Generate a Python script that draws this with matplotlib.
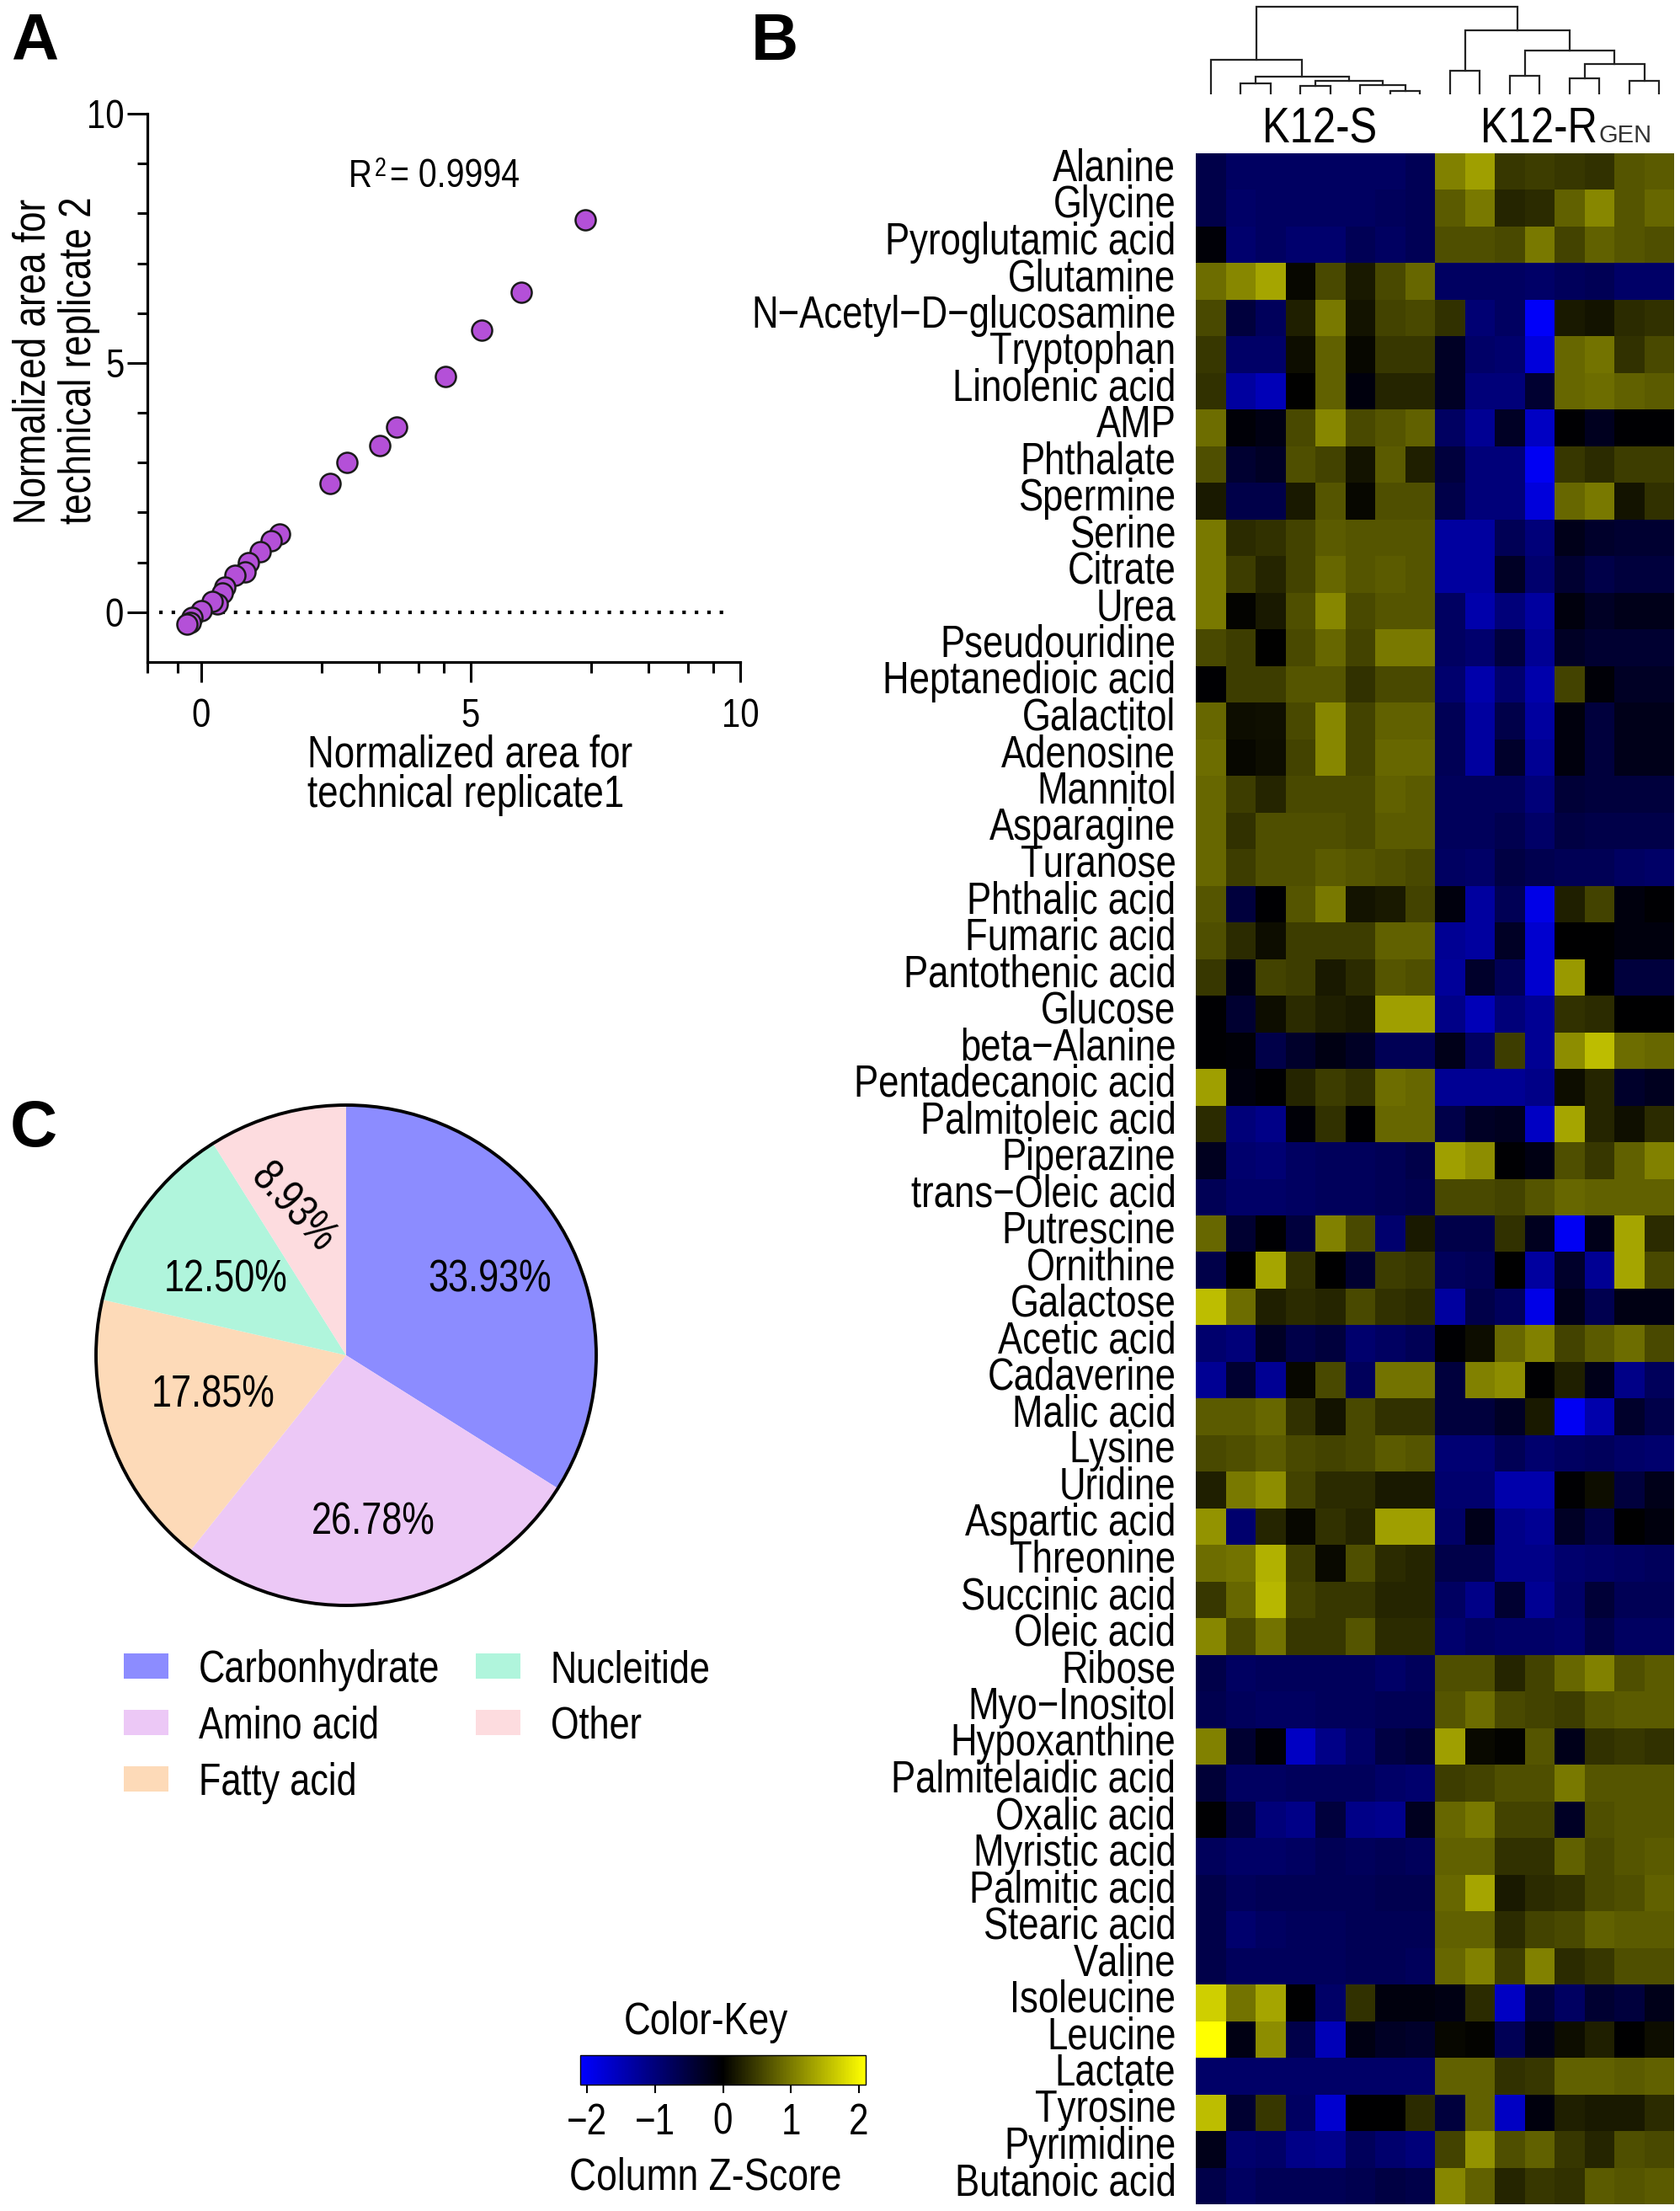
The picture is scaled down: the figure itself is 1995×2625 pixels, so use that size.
import os
import tempfile
import numpy as np
import matplotlib
matplotlib.use('Agg')
import matplotlib.pyplot as plt
from matplotlib import font_manager
from matplotlib.colors import LinearSegmentedColormap, Normalize
from matplotlib.cm import ScalarMappable
from matplotlib.transforms import Affine2D
from fontTools.ttLib import TTFont


def make_narrow_font(squeeze=0.82):
    '''No condensed face is installed, so squeeze Liberation Sans sideways and register the result'''
    source = font_manager.findfont('Liberation Sans')
    font = TTFont(source)
    glyf = font['glyf']
    hmtx = font['hmtx']
    for name in font.getGlyphOrder():
        glyph = glyf[name]
        if glyph.isComposite():
            for part in glyph.components:
                part.x = round(part.x * squeeze)
        elif glyph.numberOfContours > 0:
            glyph.coordinates.scale((squeeze, 1))
            glyph.coordinates.toInt()
            if hasattr(glyph, 'program'):
                glyph.program.fromBytecode([])
        advance, bearing = hmtx.metrics[name]
        hmtx.metrics[name] = (round(advance * squeeze), round(bearing * squeeze))
    for name in font.getGlyphOrder():
        glyf[name].recalcBounds(glyf)
    for tag in ['fpgm', 'prep', 'cvt ', 'hdmx', 'VDMX', 'LTSH', 'kern', 'GPOS', 'GSUB']:
        if tag in font:
            del font[tag]
    for record in font['name'].names:
        if record.nameID in (1, 4, 16):
            record.string = 'Local Sans Narrow'
        elif record.nameID == 6:
            record.string = 'LocalSansNarrow'
    path = os.path.join(tempfile.mkdtemp(), 'local_sans_narrow.ttf')
    font.save(path)
    font_manager.fontManager.addfont(path)


make_narrow_font()
plt.rcParams['font.family'] = ['Local Sans Narrow', 'Liberation Sans']

W, H = 1995, 2625

# panel A
replicate_1 = [7.13, 5.94, 5.21, 4.53, 3.63, 3.31, 2.71, 2.39, 1.45, 1.30, 1.09, 0.88, 0.82,
               0.62, 0.44, 0.39, 0.30, 0.20, 0.00, -0.17, -0.21, -0.26]
replicate_2 = [7.87, 6.41, 5.65, 4.72, 3.71, 3.34, 3.01, 2.58, 1.56, 1.44, 1.21, 1.00, 0.80,
               0.74, 0.50, 0.38, 0.17, 0.22, 0.03, -0.11, -0.21, -0.24]
x_minor_ticks = [-1, -0.44, 2.24, 3.3, 4.03, 4.5, 7.24, 8.3, 9.03, 9.5]
y_minor_ticks = [1, 2, 3, 4, 6, 7, 8, 9]

# panel C
classes = ['Carbonhydrate', 'Amino acid', 'Fatty acid', 'Nucleitide', 'Other']
class_share = [33.93, 26.78, 17.85, 12.50, 8.93]
class_colors = ['#8C8CFF', '#ECC8F6', '#FDDAB8', '#B0F5DC', '#FDDCDF']

# panel B
metabolites = ['Alanine', 'Glycine', 'Pyroglutamic acid', 'Glutamine', 'N\u2212Acetyl\u2212D\u2212glucosamine',
               'Tryptophan', 'Linolenic acid', 'AMP', 'Phthalate', 'Spermine', 'Serine', 'Citrate', 'Urea',
               'Pseudouridine', 'Heptanedioic acid', 'Galactitol', 'Adenosine', 'Mannitol', 'Asparagine',
               'Turanose', 'Phthalic acid', 'Fumaric acid', 'Pantothenic acid', 'Glucose', 'beta\u2212Alanine',
               'Pentadecanoic acid', 'Palmitoleic acid', 'Piperazine', 'trans\u2212Oleic acid', 'Putrescine',
               'Ornithine', 'Galactose', 'Acetic acid', 'Cadaverine', 'Malic acid', 'Lysine', 'Uridine',
               'Aspartic acid', 'Threonine', 'Succinic acid', 'Oleic acid', 'Ribose', 'Myo\u2212Inositol',
               'Hypoxanthine', 'Palmitelaidic acid', 'Oxalic acid', 'Myristic acid', 'Palmitic acid',
               'Stearic acid', 'Valine', 'Isoleucine', 'Leucine', 'Lactate', 'Tyrosine', 'Pyrimidine',
               'Butanoic acid']
zscores = [
    [-.6, -.8, -.8, -.8, -.8, -.8, -.8, -.7, 1.05, 1.3, .45, .5, .45, .4, .7, .75],
    [-.6, -.85, -.8, -.8, -.8, -.8, -.75, -.7, .75, 1.0, .3, .35, .8, 1.1, .7, .85],
    [-.05, -.9, -.8, -.9, -.9, -.7, -.8, -.7, .65, .65, .6, 1.0, .55, .8, .7, .65],
    [.9, 1.1, 1.35, .05, .6, .2, .6, .85, -.8, -.8, -.8, -.85, -.75, -.7, -.85, -.85],
    [.6, -.5, -.75, .25, 1.0, .15, .55, .6, .4, -.95, -.8, -2.05, .2, .15, .35, .4],
    [.45, -.85, -.85, .1, .8, .05, .45, .45, -.3, -.85, -.9, -1.8, .85, .95, .4, .6],
    [.4, -1.3, -1.5, 0, .8, -.1, .3, .3, -.3, -1.0, -1.0, -.4, .85, .9, .8, .75],
    [.9, -.05, -.15, .6, 1.1, .6, .7, .8, -.8, -1.2, -.3, -1.6, -.02, -.25, -.02, -.02],
    [.65, -.4, -.3, .65, .55, .15, .75, .25, -.5, -1.0, -1.0, -2.0, .45, .35, .5, .5],
    [.2, -.6, -.6, .2, .7, .05, .65, .65, -.6, -1.0, -1.0, -1.8, .85, 1.0, .15, .4],
    [1.0, .35, .4, .55, .75, .7, .7, .7, -1.3, -1.3, -.7, -1.0, -.2, -.35, -.4, -.4],
    [1.0, .5, .3, .55, .85, .7, .75, .7, -1.3, -1.3, -.3, -.9, -.4, -.6, -.5, -.5],
    [1.0, .03, .2, .65, 1.1, .6, .7, .7, -.8, -1.4, -1.0, -1.3, -.1, -.3, -.2, -.2],
    [.6, .5, 0, .6, .85, .55, 1.0, 1.0, -.8, -.9, -.5, -1.2, -.3, -.4, -.4, -.4],
    [-.02, .5, .5, .7, .7, .4, .6, .6, -.9, -1.4, -.9, -1.4, .55, -.05, -.3, -.3],
    [.85, .1, .12, .6, 1.1, .55, .8, .8, -.7, -1.3, -.6, -1.3, -.1, -.5, -.2, -.2],
    [.9, .05, .1, .55, 1.1, .55, .85, .85, -.7, -1.3, -.35, -1.2, -.1, -.5, -.2, -.2],
    [.85, .5, .3, .6, .6, .6, .8, .75, -.75, -.75, -.75, -1.0, -.45, -.5, -.5, -.5],
    [.85, .4, .65, .65, .65, .6, .75, .75, -.75, -.75, -.65, -.85, -.55, -.6, -.6, -.6],
    [.85, .5, .65, .65, .75, .7, .65, .6, -.8, -.85, -.55, -.65, -.7, -.7, -.8, -.85],
    [.7, -.5, -.03, .7, 1.0, .15, .2, .55, -.1, -1.3, -.7, -1.9, .25, .55, -.1, -.02],
    [.65, .35, .1, .5, .5, .5, .8, .8, -1.2, -1.3, -.3, -1.7, -.01, -.01, -.1, -.1],
    [.45, -.15, .55, .5, .2, .35, .7, .65, -1.25, -.35, -.7, -1.7, 1.25, -.01, -.5, -.5],
    [-.02, -.4, .1, .35, .25, .2, 1.3, 1.3, -1.1, -1.5, -1.0, -1.2, .4, .35, -.01, -.01],
    [-.02, -.05, -.6, -.35, -.15, -.3, -.7, -.7, -.2, -.8, .5, -1.2, 1.15, 1.55, .9, .85],
    [1.3, -.1, -.02, .3, .5, .4, .9, .85, -1.2, -1.2, -1.2, -1.1, .1, .3, -.35, -.25],
    [.35, -1.0, -1.1, -.05, .4, -.03, .85, .85, -.6, -.3, -.25, -1.6, 1.35, .3, .12, .35],
    [-.25, -.9, -.95, -.8, -.75, -.75, -.7, -.6, 1.3, 1.15, -.02, -.15, .65, .45, .8, 1.05],
    [-.7, -.85, -.85, -.8, -.75, -.75, -.7, -.65, .6, .6, .55, .7, .85, .8, .8, .8],
    [.85, -.4, -.02, -.5, 1.05, .6, -.9, .2, -.6, -.6, .4, -.25, -2.0, -.2, 1.35, .35],
    [-.6, -.01, 1.35, .4, -.01, -.4, .5, .45, -.75, -.7, -.01, -1.3, -.35, -1.2, 1.35, .6],
    [1.55, .9, .25, .35, .3, .6, .4, .35, -1.3, -.6, -.75, -1.9, -.2, -.65, -.15, -.15],
    [-.9, -1.0, -.3, -.6, -.5, -.9, -.8, -.7, -.02, .1, .85, 1.05, .55, .75, .9, .6],
    [-1.2, -.4, -1.2, .05, .6, -.75, .95, .95, -.5, 1.05, 1.15, -.02, .25, -.2, -1.1, -.75],
    [.75, .75, .85, .4, .15, .6, .4, .4, -.5, -.5, -.3, .2, -2.0, -1.4, -.35, -.6],
    [.6, .65, .75, .6, .55, .6, .75, .7, -.95, -.95, -.7, -.9, -.8, -.75, -.85, -.9],
    [.25, 1.0, 1.15, .55, .35, .35, .2, .2, -.9, -.9, -1.4, -1.4, -.03, .1, -.5, -.2],
    [1.2, -.9, .3, .05, .4, .3, 1.3, 1.3, -.85, -.2, -1.1, -1.2, -.3, -.6, -.01, -.1],
    [.9, .95, 1.45, .5, .08, .65, .35, .3, -.6, -.6, -1.1, -1.1, -.9, -.85, -.8, -.75],
    [.45, .85, 1.5, .55, .45, .45, .3, .3, -.8, -1.1, -.4, -1.2, -.85, -.45, -.7, -.7],
    [1.1, .6, .95, .45, .45, .7, .35, .35, -.9, -.8, -.85, -.85, -.9, -.6, -.8, -.8],
    [-.6, -.8, -.75, -.75, -.75, -.75, -.85, -.75, .65, .65, .3, .55, .85, 1.05, .65, .75],
    [-.65, -.75, -.8, -.8, -.75, -.75, -.7, -.7, .7, .9, .6, .55, .5, .7, .75, .75],
    [1.05, -.4, -.05, -1.6, -1.1, -.85, -.55, -.45, 1.3, .07, .02, .7, -.2, .4, .45, .4],
    [-.45, -.8, -.8, -.75, -.75, -.75, -.85, -.9, .5, .55, .65, .65, 1.0, .7, .7, .7],
    [-.02, -.5, -1.0, -1.1, -.5, -1.1, -1.15, -.25, .85, 1.0, .55, .55, -.3, .65, .7, .7],
    [-.75, -.85, -.85, -.8, -.7, -.75, -.7, -.75, .8, .8, .4, .4, .8, .6, .7, .75],
    [-.6, -.75, -.7, -.7, -.7, -.7, -.65, -.65, .85, 1.35, .2, .35, .4, .6, .65, .8],
    [-.6, -.9, -.8, -.75, -.75, -.7, -.7, -.7, .8, .8, .35, .55, .6, .8, .75, .75],
    [-.6, -.75, -.75, -.75, -.75, -.7, -.7, -.75, .85, 1.05, .5, 1.05, .35, .45, .65, .65],
    [1.7, .95, 1.35, -.01, -.85, .4, -.1, -.1, -.15, .35, -1.6, -.5, -.8, -.4, -.5, -.2],
    [2.1, -.15, 1.15, -.6, -1.5, -.15, -.3, -.35, .05, .02, -.7, -.2, .1, .25, -.01, .1],
    [-.85, -.85, -.85, -.85, -.85, -.85, -.85, -.85, .8, .8, .4, .45, .8, .8, .75, .8],
    [1.55, -.4, .45, -.8, -1.7, -.01, -.01, .35, -.5, .8, -1.6, -.1, .25, .2, .2, .35],
    [-.2, -.9, -.85, -1.1, -1.15, -.75, -.9, -1.0, .55, 1.2, .65, .8, .45, .3, .65, .6],
    [-.6, -.8, -.7, -.7, -.7, -.65, -.55, -.6, 1.1, .8, .3, .45, .4, .75, .7, .75],
]
# sample tree: (left node, right node, height), merged nodes numbered from 16
sample_tree = [(6, 7, 3.6), (5, 16, 11), (3, 4, 10), (18, 17, 16.5), (1, 2, 13.4), (20, 19, 21.4),
               (0, 21, 41.5), (8, 9, 27.7), (10, 11, 21.9), (12, 13, 18.8), (14, 15, 15.6),
               (25, 26, 35.7), (24, 27, 52), (23, 28, 76), (22, 29, 104)]
key_ticks = [-2, -1, 0, 1, 2]


def px_axes(left, top, right, bottom):
    return fig.add_axes([left / W, 1 - bottom / H, (right - left) / W, (bottom - top) / H])


fig = plt.figure(figsize=(W / 100, H / 100), dpi=100, facecolor='white')
# pixel positions measured from the top left of the picture
px = Affine2D().scale(1, -1).translate(0, H)

# ---- A: replicate scatter
ax_a = px_axes(175, 135, 879, 786)
ax_a.scatter(replicate_1, replicate_2, s=300, color='#B450D8', edgecolor='#1a1a1a', linewidth=1.8,
             zorder=3, clip_on=False)
ax_a.plot([-0.78, 9.85], [0, 0], color='black', lw=3, ls=(0, (1, 2.55)), zorder=1)
ax_a.set_xlim(-1, 10)
ax_a.set_ylim(-1, 10)
ax_a.spines[['top', 'right']].set_visible(False)
ax_a.spines[['left', 'bottom']].set_linewidth(2.3)
ax_a.set_xticks([0, 5, 10])
ax_a.set_yticks([0, 5, 10])
ax_a.set_xticks(x_minor_ticks, minor=True)
ax_a.set_yticks(y_minor_ticks, minor=True)
ax_a.tick_params(axis='both', which='major', length=17, width=2.2, labelsize=35)
ax_a.tick_params(axis='both', which='minor', length=9, width=2.2)
ax_a.tick_params(axis='x', which='major', pad=13)
ax_a.tick_params(axis='y', which='major', pad=3)
# multi-line labels hang from the baseline of their last line
ax_a.set_xlabel('Normalized area for\ntechnical replicate1', fontsize=38.5, ha='left', va='baseline',
                multialignment='left', linespacing=0.94)
ax_a.xaxis.set_label_coords(365, 958, transform=px)
ax_a.set_ylabel('Normalized area for\ntechnical replicate 2', fontsize=38.5, ha='left', va='baseline',
                multialignment='left', linespacing=1.13)
ax_a.yaxis.set_label_coords(103, 622, transform=px)
fig.text(414, 222, 'R', fontsize=34, transform=px)
fig.text(445, 209, '2', fontsize=22, transform=px)
fig.text(463, 222, '= 0.9994', fontsize=34.5, transform=px)

# ---- B: heatmap with sample tree
blue_black_yellow = LinearSegmentedColormap.from_list('bby', ['#0000FF', '#000000', '#FFFF00'])
z_norm = Normalize(-2.1, 2.1)
ax_b = px_axes(1420, 182, 1988, 2617)
ax_b.pcolormesh(np.array(zscores), cmap=blue_black_yellow, norm=z_norm)
ax_b.set_xlim(0, 16)
ax_b.set_ylim(len(metabolites), 0)
ax_b.set_xticks([])
ax_b.set_yticks(np.arange(len(metabolites)) + 0.75, metabolites, fontsize=38.3, va='baseline')
ax_b.tick_params(axis='y', length=0, pad=17)
for side in ax_b.spines.values():
    side.set_visible(False)

ax_tree = px_axes(1420, 0, 1988, 112)
node_x = {i: i + 0.5 for i in range(16)}
node_h = {i: 0 for i in range(16)}
for k, (a, b, height) in enumerate(sample_tree):
    ax_tree.plot([node_x[a], node_x[a], node_x[b], node_x[b]], [node_h[a], height, height, node_h[b]],
                 color='#222222', lw=1.6, solid_joinstyle='miter')
    node_x[16 + k] = (node_x[a] + node_x[b]) / 2
    node_h[16 + k] = height
ax_tree.set_xlim(0, 16)
ax_tree.set_ylim(0, 112)
ax_tree.axis('off')

fig.text(1567, 169, 'K12-S', fontsize=43, ha='center', transform=px)
fig.text(1897, 169, 'K12-R', fontsize=43, ha='right', transform=px)
fig.text(1899, 169, 'GEN', fontsize=21, family='Liberation Sans', color='#333333', transform=px)

# ---- C: class pie
ax_c = px_axes(114, 1312, 708, 1906)
wedges, _ = ax_c.pie(class_share, colors=class_colors, startangle=90, counterclock=False, radius=1)
ax_c.add_patch(plt.Circle((0, 0), 1, fill=False, edgecolor='black', lw=2.8, clip_on=False))
ax_c.set_xlim(-1, 1)
ax_c.set_ylim(-1, 1)
share_spots = [(0.575, 0.30), (0.108, -0.67), (-0.53, -0.16), (-0.48, 0.30), (-0.215, 0.59)]
share_turns = [0, 0, 0, 0, -47]
for share, spot, turn in zip(class_share, share_spots, share_turns):
    ax_c.text(spot[0], spot[1], f'{share:.2f}%', fontsize=38, ha='center', va='center', rotation=turn)
ax_c.legend(wedges, classes, ncol=2, frameon=False, fontsize=38, loc='upper left',
            bbox_to_anchor=(147, 1958), bbox_transform=px, borderaxespad=0, borderpad=0,
            handlelength=1.0, handleheight=0.5, handletextpad=0.68, labelspacing=0.32, columnspacing=0.82)

# ---- colour key
ax_key = px_axes(689, 2440, 1028, 2475)
key = fig.colorbar(ScalarMappable(z_norm, blue_black_yellow), cax=ax_key, orientation='horizontal')
key.set_ticks(key_ticks, labels=[str(t).replace('-', '\u2212') for t in key_ticks])
key.ax.tick_params(length=7, width=1.5, labelsize=37, pad=8)
key.outline.set_linewidth(1)
fig.text(838, 2415, 'Color-Key', fontsize=38.5, ha='center', transform=px)
fig.text(838, 2600, 'Column Z-Score', fontsize=39, ha='center', transform=px)

# ---- panel letters
for letter, x, y in [('A', 13, 71), ('B', 892, 71), ('C', 12, 1361)]:
    fig.text(x, y, letter, fontsize=56, family='Liberation Sans', weight='bold', transform=px)

fig.savefig('out.png', dpi=100, facecolor='white')
